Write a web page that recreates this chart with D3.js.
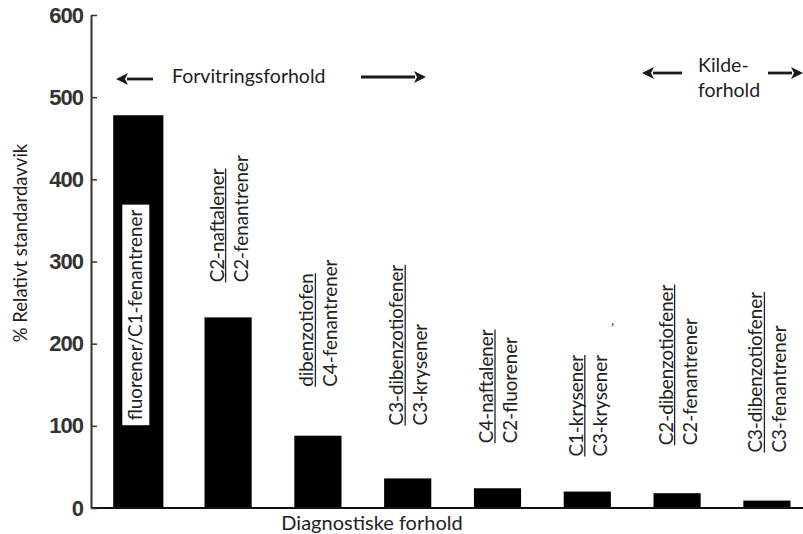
<!DOCTYPE html>
<html>
<head>
<meta charset="utf-8">
<script src="https://cdn.jsdelivr.net/npm/d3@7"></script>
<style>
  body { margin: 0; background: #fff; }
  svg { display: block; }
  text { font-family: Lato, "Open Sans", sans-serif; }
</style>
</head>
<body>
<svg id="chart" width="803" height="534"></svg>
<script>
// Diagnostic ratios (numerator / denominator) and their relative standard deviation
const numerators = ["fluorener/C1-fenantrener", "C2-naftalener", "dibenzotiofen", "C3-dibenzotiofener",
                    "C4-naftalener", "C1-krysener", "C2-dibenzotiofener", "C3-dibenzotiofener"];
const denominators = ["", "C2-fenantrener", "C4-fenantrener", "C3-krysener",
                      "C2-fluorener", "C3-krysener", "C2-fenantrener", "C3-fenantrener"];
const rsdValues = [478, 232, 88, 36, 24, 20, 18, 9];
const yTickValues = [0, 100, 200, 300, 400, 500, 600];

// Layout: how far above each bar its rotated ratio label ends
const labelLift = [0, 35, 49, 53, 45, 35, 48, 48];

const svg = d3.select("#chart");
const ink = "#222";

const x = d3.scaleBand()
  .domain(d3.range(rsdValues.length))
  .range([93.4, 811.8])
  .paddingInner(0.475)
  .paddingOuter(0.2375);

const y = d3.scaleLinear().domain([0, 600]).range([508, 15]);

// Bars
svg.append("g").selectAll("rect")
  .data(rsdValues)
  .join("rect")
  .attr("x", (d, i) => x(i) - (i === 0 ? 1.5 : 0))
  .attr("width", (d, i) => x.bandwidth() + (i === 0 ? 3 : 0))
  .attr("y", d => y(d))
  .attr("height", d => y(0) - y(d))
  .attr("fill", "#000");

// Baseline
svg.append("line")
  .attr("x1", 91).attr("x2", 803)
  .attr("y1", y(0)).attr("y2", y(0))
  .attr("stroke", "#111").attr("stroke-width", 2);

// Y axis with inward ticks
const yAxis = d3.axisLeft(y)
  .tickValues(yTickValues)
  .tickSize(-6)
  .tickSizeOuter(0)
  .tickPadding(8)
  .tickFormat(d3.format("d"));

const gy = svg.append("g").attr("transform", "translate(91,0)").call(yAxis);
gy.select(".domain").attr("stroke", "#333").attr("stroke-width", 2);
gy.selectAll(".tick line").attr("stroke", "#333").attr("stroke-width", 1.5);
gy.selectAll(".tick text")
  .attr("fill", "#333")
  .style("font-family", "'Liberation Sans', Arial, sans-serif")
  .style("font-size", "22px")
  .style("font-weight", "bold")
  .style("letter-spacing", "-1px");

// Axis titles
svg.append("text")
  .attr("transform", "translate(21,243) rotate(-90)")
  .attr("text-anchor", "middle")
  .attr("dy", "0.35em")
  .attr("fill", ink)
  .style("font-size", "18.5px")
  .text("% Relativt standardavvik");

svg.append("text")
  .attr("x", 372).attr("y", 523)
  .attr("text-anchor", "middle")
  .attr("dy", "0.35em")
  .attr("fill", ink)
  .style("font-size", "20px")
  .text("Diagnostiske forhold");

// Ratio labels
const labelSize = "18.8px";
const cx = i => x(i) + x.bandwidth() / 2;

// First ratio: written inside its bar on a white box
{
  const g = svg.append("g").attr("transform", `translate(${cx(0) - 2.5},315) rotate(-90)`);
  const t = g.append("text")
    .attr("text-anchor", "middle")
    .attr("dy", "0.35em")
    .attr("fill", ink)
    .style("font-size", labelSize)
    .text(numerators[0]);
  const bb = t.node().getBBox();
  g.insert("rect", "text")
    .attr("x", bb.x - 5).attr("y", -13.5)
    .attr("width", bb.width + 10).attr("height", 27)
    .attr("fill", "#fff");
}

// Remaining ratios: numerator underlined, denominator beside it
d3.range(1, rsdValues.length).forEach(i => {
  const base = y(rsdValues[i]) - labelLift[i];
  const num = svg.append("text")
    .attr("transform", `translate(${cx(i) - 11},${base}) rotate(-90)`)
    .attr("dy", "0.35em")
    .attr("fill", ink)
    .style("font-size", labelSize)
    .text(numerators[i]);
  const len = num.node().getComputedTextLength();
  svg.append("line")
    .attr("x1", cx(i) - 2.5).attr("x2", cx(i) - 2.5)
    .attr("y1", base).attr("y2", base - len)
    .attr("stroke", ink).attr("stroke-width", 1.3);
  svg.append("text")
    .attr("transform", `translate(${cx(i) + 13},${base}) rotate(-90)`)
    .attr("dy", "0.35em")
    .attr("fill", ink)
    .style("font-size", labelSize)
    .text(denominators[i]);
});

// stray mark
svg.append("text").attr("x", 611).attr("y", 325).attr("fill", ink)
  .style("font-size", "14px").text(",");

// Region headers with arrows
function arrow(x1, x2, yy) {
  const dir = Math.sign(x2 - x1);
  const head = 12, half = 6;
  svg.append("line")
    .attr("x1", x1).attr("x2", x2 - dir * head + dir)
    .attr("y1", yy).attr("y2", yy)
    .attr("stroke", "#1a1a1a").attr("stroke-width", 2.8);
  svg.append("path")
    .attr("d", `M${x2},${yy} L${x2 - dir * head},${yy - half} L${x2 - dir * (head - 3)},${yy} L${x2 - dir * head},${yy + half} Z`)
    .attr("fill", "#1a1a1a");
}

svg.append("text")
  .attr("x", 172).attr("y", 76)
  .attr("dy", "0.35em")
  .attr("fill", ink)
  .style("font-size", "19.5px")
  .text("Forvitringsforhold");
arrow(153, 116, 79);
arrow(361, 426, 77);

svg.append("text")
  .attr("x", 698).attr("y", 65)
  .attr("dy", "0.35em")
  .attr("fill", ink)
  .style("font-size", "19.5px")
  .text("Kilde-");
svg.append("text")
  .attr("x", 698).attr("y", 90)
  .attr("dy", "0.35em")
  .attr("fill", ink)
  .style("font-size", "19.5px")
  .text("forhold");
arrow(682, 642, 73);
arrow(768, 803, 73);
</script>
</body>
</html>
